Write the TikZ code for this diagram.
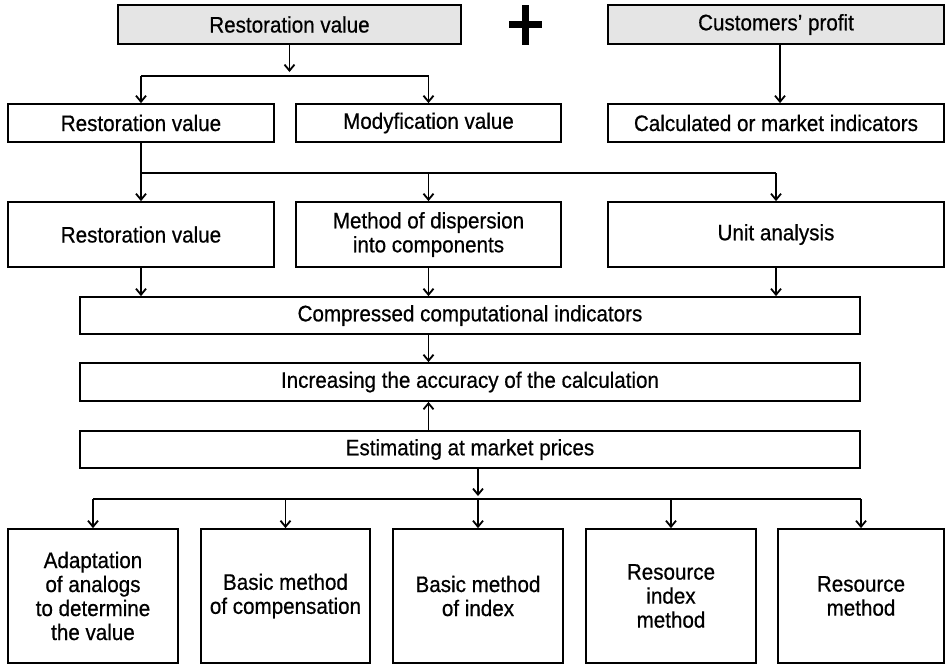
\documentclass[tikz,border=0pt]{standalone}
\usepackage{fontspec}
\setmainfont[FakeBold=0.6,FakeStretch=0.92]{Liberation Sans}
\usetikzlibrary{arrows.meta}
\begin{document}
\begin{tikzpicture}[x=1pt,y=-1pt,
  box/.style={draw, line width=1.8pt, inner sep=0pt, align=center,
    font=\fontsize{22.4}{24}\selectfont},
  headbox/.style={box, fill=black!10},
  arr/.style={line width=1.8pt, -{Straight Barb[length=6pt,width=10pt,line width=1.8pt]}},
  ln/.style={line width=1.8pt}]
\useasboundingbox (0,0) rectangle (946,665);

% source blocks
\node[headbox, minimum width=343pt, minimum height=39pt] (rvtop) at (289.5,24.5) {Restoration value};
\node[headbox, minimum width=336pt, minimum height=39pt] (cp) at (776,24.5) {Customers’ profit};
\fill (522,5) rectangle (529,45);
\fill (509,21) rectangle (542,28);

% second row
\node[box, minimum width=266pt, minimum height=38pt] (rv2) at (141,123) {Restoration value};
\node[box, minimum width=265pt, minimum height=38pt] (mv) at (428.5,123) {Modyfication value};
\node[box, minimum width=336pt, minimum height=38pt] (cmi) at (776,123) {Calculated or market indicators};

% third row
\node[box, minimum width=266pt, minimum height=65pt] (rv3) at (141,234.5) {Restoration value};
\node[box, minimum width=265pt, minimum height=65pt] (disp) at (428.5,234.5) {Method of dispersion\\into components};
\node[box, minimum width=336pt, minimum height=65pt] (unit) at (776,234.5) {Unit analysis};

% central column
\node[box, minimum width=780pt, minimum height=37pt] (comp) at (470,315.5) {Compressed computational indicators};
\node[box, minimum width=780pt, minimum height=38pt] (incr) at (470,382) {Increasing the accuracy of the calculation};
\node[box, minimum width=780pt, minimum height=37pt] (est) at (470,449.5) {Estimating at market prices};

% methods
\node[box, minimum width=170pt, minimum height=134pt] (m1) at (93,596) {Adaptation\\of analogs\\to determine\\the value};
\node[box, minimum width=169pt, minimum height=134pt] (m2) at (285.5,596) {Basic method\\of compensation};
\node[box, minimum width=170pt, minimum height=134pt] (m3) at (478,596) {Basic method\\of index};
\node[box, minimum width=170pt, minimum height=134pt] (m4) at (671,596) {Resource\\index\\method};
\node[box, minimum width=166pt, minimum height=134pt] (m5) at (861,596) {Resource\\method};

% connectors: top split
\coordinate (b1) at (289.5,72);
\draw[arr] (rvtop.south) -- (b1);
\draw[ln] (rv2.north |- 0,76) -- (mv.north |- 0,76);
\draw[arr] (rv2.north |- 0,76) -- (rv2.north);
\draw[arr] (mv.north |- 0,76) -- (mv.north);
\draw[arr] (cp.south -| 780,0) -- (cmi.north -| 780,0);

% connectors: second split
\draw[ln] (rv2.south) -- (rv2.south |- 0,173) -- (unit.north |- 0,173);
\draw[arr] (rv3.north |- 0,173) -- (rv3.north);
\draw[arr] (disp.north |- 0,173) -- (disp.north);
\draw[arr] (unit.north |- 0,173) -- (unit.north);

% into compressed indicators
\draw[arr] (rv3.south) -- (rv3.south |- comp.north);
\draw[arr] (disp.south) -- (disp.south |- comp.north);
\draw[arr] (unit.south) -- (unit.south |- comp.north);

% central column
\draw[arr] (comp.south -| disp.south) -- (incr.north -| disp.south);
\draw[arr] (est.north -| disp.south) -- (incr.south -| disp.south);

% bottom split
\coordinate (b2) at (478,496);
\draw[arr] (est.south -| m3.north) -- (b2);
\draw[ln] (m1.north |- 0,499) -- (m5.north |- 0,499);
\foreach \m in {m1,m2,m3,m4,m5}
  \draw[arr] (\m.north |- 0,499) -- (\m.north);
\end{tikzpicture}
\end{document}
